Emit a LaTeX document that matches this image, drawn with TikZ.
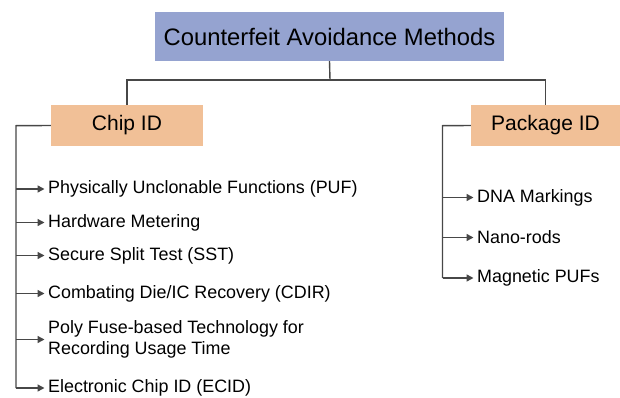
\documentclass[tikz,border=0pt]{standalone}
\usepackage{fontspec}
\setmainfont{Liberation Sans}
\usetikzlibrary{arrows.meta}
\definecolor{headblue}{HTML}{95A3D0}
\definecolor{catpeach}{HTML}{F1C097}
\definecolor{wire}{HTML}{474747}
\begin{document}
\begin{tikzpicture}[x=1pt,y=-1pt,
  headbox/.style={fill=headblue,minimum width=349pt,minimum height=49pt,inner sep=0pt,font=\fontsize{23.8}{28}\selectfont},
  catbox/.style={fill=catpeach,minimum height=41pt,inner sep=0pt,font=\fontsize{21}{25}\selectfont},
  leaf/.style={anchor=west,inner sep=0pt,align=left,font=\fontsize{17.9}{21.5}\selectfont},
  wireline/.style={draw=wire,line width=1.4pt},
  leafarrow/.style={wireline,-{Triangle[length=7pt,width=7pt]},shorten >=3.5pt}]
  \useasboundingbox (0,0) rectangle (620,398);

  % top level and categories
  \node[headbox] (root) at (329.5,36.5) {Counterfeit Avoidance Methods};
  \node[catbox,minimum width=152pt] (chip) at (127,125.5) {Chip ID};
  \node[catbox,minimum width=149pt] (pkg) at (545.5,125.5) {Package ID};

  % chip ID methods
  \node[leaf] (c1) at (48,189) {Physically Unclonable Functions (PUF)};
  \node[leaf] (c2) at (48,222.5) {Hardware Metering};
  \node[leaf] (c3) at (48,255.5) {Secure Split Test (SST)};
  \node[leaf] (c4) at (48,293.5) {Combating Die/IC Recovery (CDIR)};
  \node[leaf] (c5) at (48,339.5) {Poly Fuse-based Technology for\\Recording Usage Time};
  \node[leaf] (c6) at (48,388) {Electronic Chip ID (ECID)};

  % package ID methods
  \node[leaf] (p1) at (477,197.5) {DNA Markings};
  \node[leaf] (p2) at (477,237.5) {Nano-rods};
  \node[leaf] (p3) at (477,278) {Magnetic PUFs};

  % bus between root and categories
  \coordinate (bus) at (330,80);
  \draw[wireline] (root.south) -- (bus);
  \draw[wireline] (chip.north) |- (pkg.north |- bus) -- (pkg.north);

  % chip ID spine and branches
  \coordinate (cspine) at (16,125.7);
  \draw[wireline] (chip.west) -- (cspine) -- (cspine |- c6.west);
  \foreach \n in {c1,c2,c3,c4,c5,c6}
    \draw[leafarrow] (cspine |- \n.west) -- (\n.west);

  % package ID spine and branches
  \coordinate (pspine) at (442.5,125.7);
  \draw[wireline] (pkg.west) -- (pspine) -- (pspine |- p3.west);
  \foreach \n in {p1,p2,p3}
    \draw[leafarrow] (pspine |- \n.west) -- (\n.west);
\end{tikzpicture}
\end{document}
